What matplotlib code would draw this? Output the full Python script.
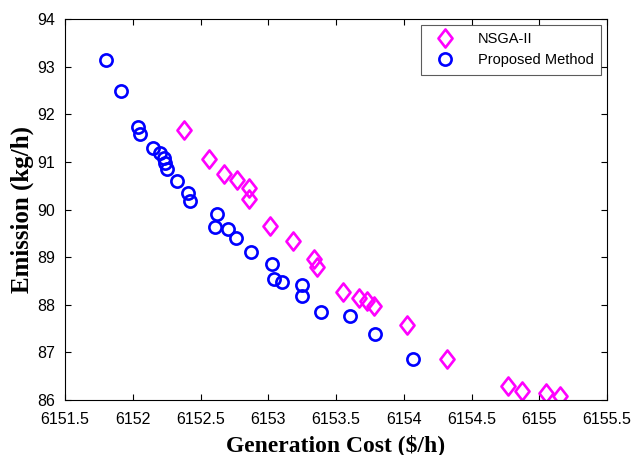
import matplotlib.pyplot as plt
from matplotlib.path import Path

# Pareto fronts: generation cost ($/h) vs emission (kg/h)
nsga_cost = [6152.38, 6152.56, 6152.67, 6152.77, 6152.86, 6152.86, 6153.01,
             6153.18, 6153.34, 6153.36, 6153.55, 6153.67, 6153.73, 6153.78,
             6154.02, 6154.32, 6154.77, 6154.87, 6155.05, 6155.15]
nsga_emis = [91.67, 91.06, 90.74, 90.62, 90.45, 90.22, 89.65,
             89.34, 88.96, 88.79, 88.27, 88.14, 88.08, 87.97,
             87.57, 86.86, 86.29, 86.19, 86.14, 86.08]

prop_cost = [6151.80, 6151.91, 6152.04, 6152.05, 6152.15, 6152.20, 6152.23,
             6152.24, 6152.25, 6152.33, 6152.41, 6152.42, 6152.62, 6152.61,
             6152.70, 6152.76, 6152.87, 6153.03, 6153.04, 6153.10, 6153.25,
             6153.25, 6153.39, 6153.60, 6153.79, 6154.07]
prop_emis = [93.14, 92.49, 91.73, 91.58, 91.29, 91.18, 91.08,
             90.97, 90.85, 90.60, 90.34, 90.18, 89.90, 89.63,
             89.59, 89.40, 89.11, 88.85, 88.54, 88.47, 88.41,
             88.18, 87.85, 87.76, 87.38, 86.86]

xticks = [6151.5, 6152, 6152.5, 6153, 6153.5, 6154, 6154.5, 6155, 6155.5]
xticklabels = ['6151.5', '6152', '6152.5', '6153', '6153.5', '6154', '6154.5', '6155', '6155.5']
yticks = [86, 87, 88, 89, 90, 91, 92, 93, 94]

plt.rcParams['font.family'] = 'Liberation Sans'

# diamond a bit narrower than tall, like MATLAB's
diamond = Path([(0, 1), (0.78, 0), (0, -1), (-0.78, 0), (0, 1)],
               [Path.MOVETO, Path.LINETO, Path.LINETO, Path.LINETO, Path.CLOSEPOLY])

fig = plt.figure(figsize=(6.35, 4.55), dpi=100)
ax = fig.add_axes([0.1024, 0.1209, 0.8536, 0.8373])

ax.plot(nsga_cost, nsga_emis, linestyle='none', marker=diamond, markersize=13,
        markerfacecolor='none', markeredgecolor='#FF00FF', markeredgewidth=1.9,
        label='NSGA-II')
ax.plot(prop_cost, prop_emis, linestyle='none', marker='o', markersize=8.8,
        markerfacecolor='none', markeredgecolor='#0000FF', markeredgewidth=1.9,
        label='Proposed Method')

ax.set_xlim(6151.5, 6155.5)
ax.set_ylim(86, 94)
ax.set_xticks(xticks)
ax.set_xticklabels(xticklabels)
ax.set_yticks(yticks)
ax.tick_params(direction='in', top=True, right=True, length=4, labelsize=11.5)
ax.tick_params(axis='x', pad=9)
ax.tick_params(axis='y', pad=7)

ax.set_xlabel('Generation Cost (\\$/h)', family='Liberation Serif', fontweight='bold',
              fontsize=17, va='center')
ax.set_ylabel('Emission (kg/h)', family='Liberation Serif', fontweight='bold',
              fontsize=18, va='center')
ax.xaxis.set_label_coords(0.5, -0.118)
ax.yaxis.set_label_coords(-0.079, 0.5)

leg = ax.legend(loc='upper right', fontsize=10.5, fancybox=False, borderaxespad=0.4,
                handletextpad=1.2, handlelength=2.2, borderpad=0.5)
leg.get_frame().set_edgecolor('#333333')
leg.get_frame().set_linewidth(0.8)

fig.savefig('out.png', dpi=100)
